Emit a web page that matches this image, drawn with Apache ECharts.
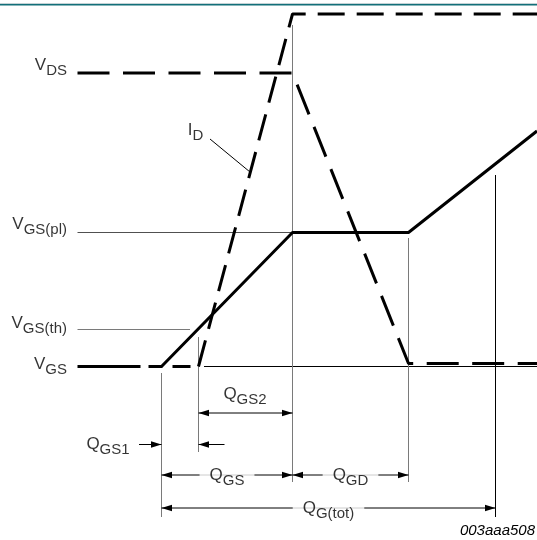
<!DOCTYPE html>
<html><head><meta charset="utf-8">
<script src="https://cdn.jsdelivr.net/npm/echarts@6/dist/echarts.min.js"></script>
<style>html,body{margin:0;padding:0;background:#fff}#c{width:537px;height:540px}</style>
</head><body><div id="c"></div>
<script>
// ---- charge positions (x axis, arbitrary charge units) ----
const qLeft = -8.4;     // left start of the traces
const qStart = 0;       // gate charge begins (QGS1 start)
const qTh = 3.7;        // threshold reached, ID starts
const qPl = 13.1;       // plateau begins
const qPlEnd = 24.7;    // plateau ends
const qTot = 33.4;      // total gate charge
const qRight = 37.55;   // right end of traces

// ---- levels (y axis, arbitrary units) ----
const vgsBase = 0;
const vgsTh = 3.75;
const vgsPl = 13.4;
const vgsEnd = 23.55;
const vdsHigh = 29.35;
const vdsLow = 0.3;
const idMax = 35.25;

// ---- traces ----
const vgsQ = [qStart, qPl, qPlEnd, qRight];
const vgsV = [vgsBase, vgsPl, vgsPl, vgsEnd];
const vdsQ = [qLeft, qPl, qPlEnd, qRight];
const vdsV = [vdsHigh, vdsHigh, vdsLow, vdsLow];
const idBaseQ = [qLeft, qTh];
const idBaseV = [vgsBase, vgsBase];
const idRiseQ = [qTh, qPl, qRight];
const idRiseV = [vgsBase, idMax, idMax];

// ---- annotation rows (y levels below the baseline) ----
const rowQGS2 = -4.65;
const rowQGS1 = -7.8;
const rowQGS = -10.85;
const rowQGtot = -14.15;

// ---- guide lines: [x1, y1, x2, y2, kind] kind: 'g' grey, 'k' black, 'd' dark ----
const guides = [
  [qLeft, vgsPl, qPl, vgsPl, 'd'],
  [qLeft, vgsTh, 2.85, vgsTh, 'g'],
  [4.25, vgsBase, qRight, vgsBase, 'k'],
  [qStart, -0.65, qStart, -15.05, 'g'],
  [qTh, 2.95, qTh, -8.55, 'g'],
  [qPl, 34.15, qPl, -11.55, 'g'],
  [qPlEnd, 12.85, qPlEnd, -11.55, 'g'],
  [qTot, 19.15, qTot, -15.05, 'k'],
  [4.85, 22.75, 8.85, 19.45, 'k']
];

// ---- arrows: [xFrom, xTo, y, headAtFrom, headAtTo] ----
const arrows = [
  [qTh, qPl, rowQGS2, 1, 1],
  [-2.25, qStart, rowQGS1, 0, 1],
  [6.3, qTh, rowQGS1, 0, 1],
  [qStart, qPl, rowQGS, 1, 1],
  [qPl, qPlEnd, rowQGS, 1, 1],
  [qStart, qTot, rowQGtot, 1, 1]
];

// ---- labels: [main, sub, x, y, placement] ----
const labels = [
  ['V', 'DS', -9.45, 30.1, 'left'],
  ['V', 'GS(pl)', -9.45, 14.25, 'left'],
  ['V', 'GS(th)', -9.45, 4.32, 'left'],
  ['V', 'GS', -9.45, 0.25, 'left'],
  ['I', 'D', 3.4, 23.6, 'center'],
  ['Q', 'GS2', 8.35, -2.75, 'center'],
  ['Q', 'GS1', -5.35, -7.75, 'center'],
  ['Q', 'GS', (qStart + qPl) / 2, rowQGS, 'gap'],
  ['Q', 'GD', (qPl + qPlEnd) / 2, rowQGS, 'gap'],
  ['Q', 'G(tot)', (qStart + qTot) / 2, rowQGtot, 'gap']
];
const figureId = '003aaa508';

const FONT = '"Liberation Sans", Arial, Helvetica, sans-serif';
const zip = (a, b) => a.map((v, i) => [v, b[i]]);
const guideColor = { g: '#7a7a7a', k: '#000', d: '#505050' };

const chart = echarts.init(document.getElementById('c'), null, { renderer: 'canvas' });
const rich = {
  m: { fontSize: 17, lineHeight: 26, fontFamily: FONT, color: '#000' },
  s: { fontSize: 15, verticalAlign: 'bottom', fontFamily: FONT, color: '#000' }
};

chart.setOption({
  animation: false,
  backgroundColor: '#fff',
  title: {
    text: figureId, right: 2, top: 523, padding: 0,
    textStyle: { fontFamily: FONT, fontStyle: 'italic', fontWeight: 'normal', fontSize: 15, lineHeight: 16, color: '#000' }
  },
  graphic: [
    { type: 'rect', shape: { x: 0, y: 3, width: 537, height: 1 }, style: { fill: '#c4d2d5' } },
    { type: 'rect', shape: { x: 0, y: 4, width: 537, height: 1.5 }, style: { fill: '#126f79' } }
  ],
  grid: { left: 0, right: 0, top: 0, bottom: 0 },
  xAxis: { type: 'value', min: -16.15, max: 37.55, show: false },
  yAxis: { type: 'value', min: -17.35, max: 36.65, show: false },
  series: [
    {
      type: 'lines', coordinateSystem: 'cartesian2d', silent: true, z: 1,
      data: guides.map(g => ({ coords: [[g[0], g[1]], [g[2], g[3]]], lineStyle: { color: guideColor[g[4]], width: 1 } })),
      lineStyle: { width: 1, opacity: 1 }
    },
    {
      name: 'VDS', type: 'line', data: zip(vdsQ, vdsV), showSymbol: false, silent: true, z: 3,
      lineStyle: { color: '#000', width: 3, type: [32, 13.5] }
    },
    {
      name: 'ID', type: 'line', data: zip(idBaseQ, idBaseV), showSymbol: false, silent: true, z: 3,
      lineStyle: { color: '#000', width: 3, type: [63, 8, 14, 10, 18, 8] }
    },
    {
      name: 'ID', type: 'line', data: zip(idRiseQ, idRiseV), showSymbol: false, silent: true, z: 3,
      lineStyle: { color: '#000', width: 3, type: [27, 12] }
    },
    {
      name: 'VGS', type: 'line', data: zip(vgsQ, vgsV), showSymbol: false, silent: true, z: 4,
      lineStyle: { color: '#000', width: 3 }
    },
    {
      type: 'custom', coordinateSystem: 'cartesian2d', silent: true, z: 5,
      data: arrows,
      renderItem: function (params, api) {
        const y = api.value(2);
        const p1 = api.coord([api.value(0), y]);
        const p2 = api.coord([api.value(1), y]);
        const dir = p2[0] > p1[0] ? 1 : -1;
        const L = 10.5, W = 3.3;
        const head = (p, d) => ({
          type: 'polygon',
          shape: { points: [[p[0], p[1]], [p[0] - d * L, p[1] - W], [p[0] - d * L, p[1] + W]] },
          style: { fill: '#000' }
        });
        const ch = [{ type: 'line', shape: { x1: p1[0], y1: p1[1], x2: p2[0], y2: p2[1] }, style: { stroke: '#000', lineWidth: 1 } }];
        if (api.value(4)) ch.push(head(p2, dir));
        if (api.value(3)) ch.push(head(p1, -dir));
        return { type: 'group', children: ch };
      }
    },
    {
      type: 'scatter', symbolSize: 0, silent: true, z: 6,
      data: labels.map(l => ({
        value: [l[2], l[3]],
        label: {
          show: true,
          position: l[4] === 'left' ? 'left' : 'inside',
          distance: 0,
          formatter: '{m|' + l[0] + '}{s|' + l[1] + '}',
          backgroundColor: l[4] === 'gap' ? '#fff' : 'transparent',
          padding: l[4] === 'gap' ? [0, 10] : 0,
          rich: rich
        }
      }))
    }
  ]
});
</script>
</body></html>
